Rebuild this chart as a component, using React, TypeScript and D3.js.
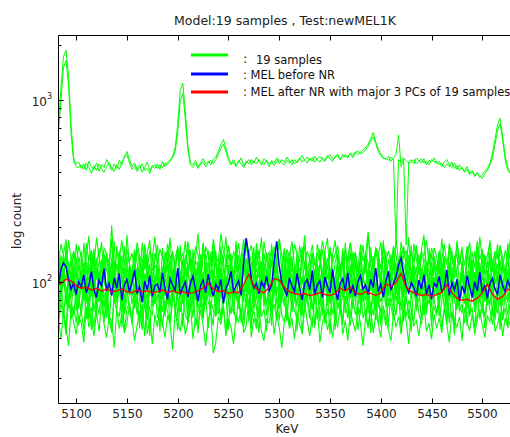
import React from "react";
import * as d3 from "d3";

const W = 510;
const H = 437;
const title = "Model:19 samples , Test:newMEL1K";
const xLabel = "KeV";
const yLabel = "log count";
const xTicks = [5100, 5150, 5200, 5250, 5300, 5350, 5400, 5450, 5500];
const yMajor = [100, 1000];
const yMajorExp = ["2", "3"];
const yMinor = [30, 40, 50, 60, 70, 80, 90, 200, 300, 400, 500, 600, 700, 800, 900, 2000];
const legendLabels = ["19 samples", ": MEL before NR", ": MEL after NR with major 3 PCs of 19 samples"];

// channel grids (KeV)
const fineKeV = d3.range(5080, 5531, 2.5);
const coarseKeV = d3.range(5080, 5531, 5);

// upper (high-count) samples
const upperA = [
  620, 720, 1150, 1720, 1860, 1350, 720, 480, 445, 455,
  420, 445, 410, 460, 430, 415, 450, 405, 440, 425,
  470, 435, 410, 445, 420, 465, 440, 490, 520, 470,
  430, 450, 415, 440, 400, 425, 455, 410, 435, 420,
  445, 415, 460, 430, 455, 470, 490, 545, 730, 1120,
  1230, 860, 560, 455, 440, 465, 430, 450, 475, 445,
  460, 440, 470, 485, 520, 570, 605, 545, 480, 445,
  470, 440, 455, 480, 435, 460, 445, 470, 450, 485,
  455, 440, 475, 460, 430, 465, 450, 480, 445, 470,
  455, 485, 460, 440, 470, 450, 475, 495, 465, 450,
  480, 460, 490, 470, 455, 485, 465, 495, 475, 460,
  490, 505, 470, 485, 500, 480, 510, 495, 520, 500,
  515, 530, 545, 570, 610, 660, 590, 535, 505, 480,
  470, 490, 460, 480, 500, 640, 430, 470, 160, 455,
  470, 445, 480, 460, 450, 475, 440, 465, 455, 480,
  445, 460, 430, 455, 470, 440, 425, 450, 415, 440,
  420, 405, 430, 395, 410, 385, 400, 375, 390, 405,
  420, 450, 510, 610, 730, 790, 630, 490, 425, 400, 415,
];
const upperB = [
  560, 650, 980, 1500, 1640, 1200, 650, 460, 430, 425,
  440, 415, 450, 425, 395, 435, 410, 445, 420, 400,
  430, 455, 420, 405, 440, 415, 455, 480, 500, 450,
  415, 435, 405, 425, 445, 410, 420, 395, 430, 440,
  420, 440, 425, 450, 440, 460, 480, 520, 660, 980,
  1080, 780, 530, 440, 425, 450, 420, 445, 455, 430,
  450, 465, 445, 470, 500, 540, 570, 520, 470, 440,
  455, 430, 465, 445, 425, 450, 470, 440, 460, 445,
  470, 450, 440, 465, 445, 455, 435, 460, 470, 450,
  440, 465, 450, 470, 445, 460, 480, 455, 470, 485,
  465, 480, 455, 475, 490, 470, 460, 485, 500, 475,
  480, 495, 470, 500, 485, 490, 505, 480, 510, 525,
  505, 515, 530, 555, 590, 625, 575, 520, 495, 475,
  480, 465, 485, 470, 160, 470, 455, 480, 465, 450,
  455, 470, 445, 460, 475, 450, 460, 440, 470, 455,
  460, 440, 450, 425, 445, 430, 455, 420, 435, 410,
  425, 400, 415, 390, 405, 380, 395, 385, 370, 395,
  410, 440, 480, 570, 680, 740, 600, 470, 410, 395, 405,
];

// lower samples
const g1 = [
  150, 128, 162, 141, 119, 170, 133, 147, 125, 158,
  139, 112, 165, 131, 149, 122, 176, 137, 118, 154,
  143, 127, 205, 115, 148, 136, 171, 124, 152, 130,
  145, 117, 166, 139, 128, 157, 121, 149, 134, 178,
  126, 151, 140, 113, 163, 135, 146, 120, 158, 132,
  144, 119, 168, 137, 127, 155, 142, 116, 161, 133,
  150, 124, 172, 140, 129, 185, 148, 131, 159, 122,
  147, 136, 164, 118, 153, 175, 142, 160, 125, 149,
  138, 115, 167, 134, 146, 121, 157, 130, 174, 141,
  126, 152, 137, 113, 162, 144, 129, 156, 120, 148,
  135, 160, 123, 145, 131, 169, 140, 117, 154, 128,
  143, 159, 121, 138, 150, 126, 165, 134, 147, 119,
  161, 130, 142, 189, 137, 124, 155, 146, 118, 163,
  132, 149, 127, 158, 141, 115, 167, 136, 150, 123,
  145, 131, 160, 122, 148, 139, 171, 126, 154, 137,
  118, 146, 133, 162, 127, 151, 140, 114, 165, 132,
  149, 124, 158, 137, 145, 120, 169, 133, 152, 128,
  141, 164, 125, 147, 136, 159, 119, 150, 134, 172, 138,
];
const g2 = [
  98, 105, 141, 122, 137, 94, 118, 146, 133, 101,
  112, 127, 96, 139, 150, 108, 121, 99, 131, 144,
  116, 103, 135, 125, 92, 147, 119, 110, 138, 128,
  97, 114, 153, 124, 106, 140, 131, 100, 117, 145,
  129, 95, 109, 136, 148, 120, 102, 126, 142, 113,
  99, 134, 155, 118, 107, 130, 123, 93, 143, 137,
  111, 104, 149, 127, 115, 139, 96, 121, 158, 132,
  106, 117, 141, 100, 128, 165, 112, 97, 135, 124,
  151, 109, 119, 138, 102, 130, 144, 114, 98, 126,
  137, 105, 148, 121, 110, 133, 93, 140, 127, 116,
  103, 145, 131, 99, 122, 152, 108, 136, 118, 101,
  129, 143, 112, 95, 139, 125, 106, 147, 120, 113,
  134, 100, 142, 128, 97, 117, 150, 123, 109, 137,
  131, 104, 115, 146, 119, 96, 138, 127, 111, 141,
  102, 124, 153, 114, 107, 135, 129, 98, 144, 121,
  116, 132, 100, 139, 126, 110, 148, 105, 118, 136,
  122, 97, 143, 130, 108, 125, 151, 113, 103, 140,
  120, 134, 99, 128, 145, 117, 123, 106, 131, 112, 126,
];
const g3 = [
  121, 92, 86, 117, 104, 131, 99, 110, 88, 125,
  103, 96, 129, 114, 84, 108, 136, 97, 119, 101,
  90, 123, 112, 94, 127, 105, 85, 116, 133, 98,
  109, 87, 120, 102, 95, 138, 111, 91, 106, 124,
  118, 100, 83, 113, 130, 96, 107, 122, 89, 104,
  134, 93, 115, 99, 126, 108, 86, 119, 102, 128,
  97, 111, 141, 90, 105, 121, 94, 132, 100, 87,
  114, 125, 103, 92, 118, 135, 98, 109, 84, 120,
  106, 130, 95, 112, 101, 89, 127, 116, 93, 123,
  99, 108, 137, 86, 114, 104, 120, 97, 129, 91,
  117, 102, 88, 126, 110, 95, 133, 105, 119, 100,
  85, 122, 107, 131, 94, 113, 98, 124, 90, 115,
  128, 101, 96, 118, 106, 139, 92, 111, 103, 87,
  121, 114, 99, 127, 88, 109, 134, 97, 116, 105,
  93, 124, 110, 85, 119, 102, 130, 95, 107, 122,
  100, 136, 89, 113, 104, 126, 96, 118, 108, 91,
  131, 98, 115, 103, 123, 87, 112, 129, 94, 106,
  117, 92, 125, 101, 109, 133, 90, 120, 99, 114, 108,
];
const g4 = [
  88, 104, 95, 113, 82, 99, 91, 118, 86, 102,
  109, 79, 97, 106, 90, 115, 84, 100, 93, 121,
  81, 96, 110, 87, 103, 92, 78, 112, 98, 85,
  107, 94, 119, 83, 101, 89, 114, 96, 80, 105,
  99, 87, 111, 92, 76, 108, 97, 116, 85, 103,
  90, 120, 95, 82, 106, 100, 88, 113, 79, 97,
  111, 86, 102, 94, 117, 84, 105, 91, 99, 125,
  93, 81, 108, 98, 87, 114, 90, 103, 77, 110,
  96, 105, 83, 118, 92, 100, 86, 109, 95, 81,
  112, 89, 101, 97, 122, 85, 94, 107, 91, 104,
  80, 99, 115, 88, 103, 93, 110, 84, 98, 117,
  92, 106, 87, 101, 95, 78, 112, 99, 89, 108,
  102, 84, 97, 114, 90, 105, 96, 80, 111, 94,
  88, 109, 99, 83, 116, 92, 101, 87, 106, 97,
  119, 91, 104, 86, 98, 113, 82, 100, 95, 107,
  85, 102, 93, 117, 89, 96, 108, 81, 103, 99,
  110, 88, 97, 105, 83, 114, 94, 101, 90, 106,
  96, 112, 84, 99, 108, 91, 103, 87, 118, 93, 97,
];
const g5 = [
  84, 97, 79, 106, 91, 72, 113, 88, 101, 76,
  95, 110, 83, 68, 104, 92, 117, 80, 99, 87,
  74, 103, 96, 115, 81, 89, 107, 70, 98, 111,
  86, 93, 77, 119, 100, 84, 71, 105, 90, 96,
  108, 78, 94, 85, 112, 73, 101, 92, 82, 116,
  89, 99, 67, 104, 95, 109, 80, 87, 114, 75,
  97, 83, 106, 92, 76, 118, 88, 102, 79, 94,
  111, 90, 73, 98, 85, 107, 96, 69, 103, 91,
  80, 115, 88, 77, 100, 93, 110, 84, 72, 105,
  94, 86, 120, 81, 97, 74, 108, 90, 99, 78,
  102, 71, 95, 113, 87, 83, 106, 92, 76, 117,
  89, 98, 80, 104, 68, 111, 93, 85, 101, 96,
  75, 109, 91, 82, 116, 88, 97, 73, 105, 90,
  99, 84, 112, 78, 94, 103, 70, 108, 87, 95,
  81, 114, 92, 86, 100, 76, 119, 89, 83, 106,
  97, 72, 104, 93, 110, 80, 91, 101, 74, 98,
  107, 88, 77, 115, 85, 96, 103, 82, 92, 79,
  112, 90, 99, 73, 106, 87, 94, 118, 81, 100, 93,
];
const g6 = [
  72, 88, 79, 63, 95, 84, 70, 101, 77, 86,
  66, 92, 81, 75, 104, 69, 89, 78, 97, 73,
  85, 61, 94, 80, 71, 99, 87, 67, 82, 106,
  76, 90, 68, 83, 96, 74, 62, 93, 85, 79,
  100, 71, 87, 65, 91, 78, 98, 73, 84, 69,
  81, 95, 60, 88, 77, 102, 72, 86, 64, 93,
  79, 70, 97, 83, 67, 90, 75, 105, 80, 68,
  92, 84, 73, 99, 62, 87, 78, 94, 71, 85,
  66, 101, 82, 76, 89, 70, 96, 63, 83, 91,
  74, 86, 108, 69, 80, 93, 77, 65, 98, 82,
  88, 72, 79, 95, 61, 84, 103, 75, 90, 67,
  81, 97, 70, 86, 76, 64, 92, 83, 99, 73,
  68, 89, 80, 104, 71, 85, 62, 94, 78, 87,
  96, 74, 83, 67, 91, 79, 100, 70, 86, 63,
  85, 93, 72, 81, 98, 66, 88, 76, 102, 80,
  69, 84, 95, 73, 87, 60, 92, 79, 71, 97,
  83, 77, 101, 65, 89, 74, 96, 82, 68, 90,
  75, 99, 86, 70, 94, 81, 63, 88, 78, 93, 80,
];
const g7 = [
  66, 58, 77, 71, 52, 84, 63, 74, 60, 81,
  69, 55, 88, 64, 73, 57, 79, 67, 92, 61,
  75, 62, 56, 83, 70, 65, 90, 54, 72, 78,
  59, 86, 68, 63, 76, 51, 81, 71, 66, 94,
  64, 73, 57, 80, 69, 60, 87, 74, 55, 77,
  82, 67, 61, 72, 95, 58, 70, 76, 63, 85,
  56, 79, 71, 65, 89, 62, 74, 53, 80, 68,
  73, 60, 84, 67, 57, 78, 91, 64, 70, 59,
  87, 65, 72, 54, 81, 69, 76, 62, 93, 66,
  61, 75, 58, 83, 70, 64, 79, 52, 72, 85,
  68, 57, 90, 63, 74, 80, 60, 71, 66, 88,
  55, 77, 69, 62, 84, 73, 58, 81, 67, 75,
  92, 64, 71, 56, 78, 66, 86, 60, 73, 69,
  58, 82, 74, 63, 70, 89, 55, 76, 65, 80,
  72, 61, 85, 68, 59, 77, 71, 94, 62, 74,
  66, 79, 57, 73, 83, 64, 69, 54, 87, 70,
  76, 60, 81, 67, 72, 56, 90, 63, 78, 65,
  84, 71, 59, 75, 68, 86, 62, 73, 57, 80, 70,
];
const g8 = [
  55, 63, 49, 68, 58, 45, 72, 61, 52, 66,
  60, 47, 74, 57, 64, 51, 69, 54, 79, 59,
  50, 65, 62, 44, 71, 56, 67, 53, 60, 76,
  63, 48, 58, 70, 55, 81, 52, 64, 46, 67,
  57, 73, 61, 50, 66, 59, 43, 69, 62, 54,
  68, 52, 60, 77, 49, 64, 56, 71, 58, 45,
  62, 70, 41, 47, 65, 59, 74, 51, 63, 57,
  46, 67, 61, 72, 53, 58, 80, 50, 64, 56,
  69, 54, 48, 63, 60, 75, 52, 66, 57, 44,
  61, 71, 56, 64, 49, 68, 59, 53, 78, 62,
  51, 65, 58, 73, 47, 60, 70, 55, 63, 50,
  66, 57, 76, 52, 62, 48, 69, 61, 54, 72,
  59, 45, 64, 58, 71, 53, 67, 60, 50, 75,
  63, 55, 48, 68, 57, 65, 52, 74, 61, 46,
  70, 58, 62, 51, 66, 78, 54, 60, 49, 67,
  56, 64, 53, 72, 59, 47, 69, 62, 57, 65,
  48, 73, 60, 55, 67, 52, 63, 71, 58, 50,
  66, 61, 74, 54, 59, 69, 51, 64, 57, 62, 58,
];
const g9 = [
  142, 88, 131, 96, 158, 104, 83, 149, 112, 137,
  91, 165, 118, 85, 140, 99, 127, 153, 87, 121,
  146, 94, 110, 168, 82, 134, 102, 157, 90, 125,
  107, 151, 86, 138, 97, 162, 115, 84, 144, 100,
  129, 81, 155, 108, 136, 92, 148, 117, 89, 160,
  98, 141, 123, 86, 152, 105, 131, 94, 166, 113,
  84, 147, 101, 135, 90, 158, 119, 87, 143, 126,
  103, 169, 95, 128, 150, 88, 137, 109, 156, 92,
  133, 85, 145, 114, 97, 163, 106, 140, 83, 124,
  154, 96, 118, 139, 86, 148, 102, 130, 161, 90,
  111, 144, 88, 127, 152, 99, 135, 84, 157, 116,
  93, 139, 121, 87, 165, 107, 146, 95, 132, 82,
  149, 104, 128, 91, 156, 113, 86, 141, 100, 170,
  88, 134, 117, 153, 94, 125, 148, 83, 137, 108,
  160, 97, 122, 89, 143, 131, 85, 155, 105, 128,
  92, 150, 112, 138, 87, 164, 101, 126, 145, 96,
  119, 84, 151, 106, 134, 93, 158, 115, 81, 142,
  103, 147, 90, 129, 162, 98, 136, 111, 154, 87, 120,
];
const g10 = [
  84, 123, 97, 141, 76, 109, 130, 88, 118, 72,
  135, 102, 80, 127, 93, 146, 79, 113, 104, 138,
  70, 120, 99, 132, 86, 149, 107, 75, 125, 91,
  116, 139, 82, 101, 128, 74, 143, 95, 110, 87,
  131, 71, 122, 105, 92, 137, 81, 114, 147, 98,
  77, 126, 108, 134, 73, 119, 96, 142, 85, 112,
  129, 90, 103, 148, 78, 117, 136, 83, 124, 100,
  94, 140, 72, 111, 133, 89, 121, 106, 75, 145,
  115, 81, 128, 97, 139, 70, 107, 131, 92, 118,
  87, 144, 101, 79, 125, 113, 96, 150, 74, 110,
  136, 95, 119, 84, 130, 104, 142, 77, 114, 89,
  106, 127, 73, 138, 93, 116, 82, 133, 99, 124,
  78, 112, 145, 88, 103, 135, 71, 121, 109, 91,
  140, 85, 117, 98, 128, 76, 147, 102, 86, 132,
  96, 120, 80, 143, 107, 90, 126, 114, 73, 137,
  118, 83, 134, 101, 75, 129, 94, 141, 108, 86,
  125, 99, 72, 139, 111, 82, 131, 97, 146, 79,
  103, 136, 88, 115, 127, 74, 122, 105, 93, 130, 100,
];
const g11 = [
  102, 67, 94, 120, 75, 111, 83, 126, 70, 98,
  115, 79, 106, 62, 123, 90, 73, 117, 96, 81,
  64, 108, 128, 77, 99, 118, 68, 103, 86, 121,
  93, 72, 116, 85, 60, 112, 101, 127, 74, 95,
  119, 82, 69, 105, 124, 88, 110, 65, 97, 114,
  76, 125, 91, 71, 107, 80, 122, 99, 63, 113,
  104, 87, 118, 66, 129, 92, 75, 109, 84, 120,
  71, 101, 124, 89, 78, 115, 61, 106, 130, 83,
  97, 116, 73, 110, 94, 68, 121, 87, 103, 77,
  126, 64, 99, 112, 81, 118, 92, 70, 107, 123,
  85, 109, 76, 127, 100, 66, 114, 95, 80, 117,
  62, 104, 121, 83, 111, 89, 125, 72, 98, 108,
  119, 78, 93, 68, 116, 102, 74, 128, 86, 97,
  73, 113, 105, 126, 79, 91, 110, 64, 120, 88,
  100, 124, 70, 96, 84, 117, 67, 108, 129, 82,
  111, 76, 118, 90, 63, 106, 122, 87, 99, 72,
  127, 94, 81, 115, 102, 69, 112, 78, 124, 91,
  86, 107, 65, 120, 96, 113, 75, 104, 118, 80, 95,
];
const g12 = [
  88, 60, 97, 71, 52, 105, 79, 66, 92, 58,
  74, 101, 63, 85, 55, 110, 69, 94, 81, 61,
  99, 67, 53, 90, 77, 104, 57, 83, 96, 70,
  62, 93, 84, 56, 108, 73, 89, 51, 100, 76,
  86, 54, 103, 68, 95, 59, 80, 111, 65, 91,
  57, 98, 75, 87, 64, 106, 53, 82, 72, 102,
  95, 70, 58, 109, 78, 63, 92, 84, 55, 99,
  67, 104, 81, 60, 96, 73, 112, 56, 88, 74,
  53, 90, 100, 66, 85, 58, 107, 77, 62, 94,
  83, 61, 97, 71, 110, 54, 87, 68, 102, 79,
  64, 106, 56, 92, 75, 99, 60, 86, 52, 95,
  101, 72, 84, 59, 108, 78, 65, 97, 81, 55,
  73, 96, 62, 89, 53, 103, 70, 91, 58, 107,
  85, 57, 98, 76, 66, 94, 111, 61, 83, 69,
  54, 102, 80, 93, 63, 88, 71, 105, 57, 90,
  97, 65, 77, 110, 59, 84, 96, 52, 100, 74,
  68, 93, 58, 86, 104, 71, 61, 98, 79, 56,
  91, 75, 103, 62, 87, 55, 99, 82, 66, 95, 78,
];
const g13 = [
  118, 156, 101, 143, 172, 109, 135, 95, 163, 127,
  148, 97, 139, 180, 112, 153, 104, 131, 167, 99,
  137, 121, 174, 93, 158, 115, 141, 106, 182, 124,
  103, 150, 129, 96, 165, 117, 145, 170, 100, 133,
  160, 111, 92, 147, 126, 176, 108, 138, 154, 98,
  128, 169, 114, 151, 102, 136, 185, 119, 94, 157,
  142, 105, 166, 125, 98, 149, 132, 178, 110, 144,
  96, 161, 120, 139, 173, 107, 152, 128, 101, 164,
  134, 176, 99, 146, 116, 155, 93, 140, 171, 113,
  152, 103, 137, 168, 122, 97, 159, 130, 181, 108,
  119, 145, 94, 162, 135, 111, 149, 175, 102, 141,
  170, 126, 107, 154, 98, 138, 165, 115, 146, 93,
  131, 160, 112, 184, 124, 100, 153, 139, 167, 106,
  148, 95, 142, 119, 172, 130, 104, 158, 121, 177,
  99, 163, 134, 110, 150, 182, 116, 143, 96, 155,
  138, 107, 174, 127, 101, 161, 145, 113, 169, 124,
  157, 92, 140, 166, 118, 149, 105, 178, 133, 110,
  126, 171, 114, 147, 97, 159, 137, 103, 164, 129, 140,
];

// MEL before NR
const melBefore = [
  108, 96, 118, 128, 122, 104, 92, 99, 86, 101,
  94, 110, 88, 97, 115, 91, 83, 103, 96, 119,
  90, 99, 85, 106, 93, 112, 80, 97, 104, 89,
  100, 117, 87, 95, 78, 102, 91, 109, 84, 96,
  98, 88, 113, 93, 81, 105, 97, 90, 120, 86,
  94, 101, 83, 99, 108, 92, 79, 96, 103, 88,
  111, 95, 84, 98, 91, 104, 77, 93, 100, 115,
  89, 96, 102, 85, 130, 175, 138, 104, 93, 99,
  87, 101, 94, 108, 90, 97, 130, 168, 122, 100,
  92, 85, 106, 96, 89, 112, 94, 80, 99, 104,
  91, 116, 86, 97, 102, 83, 107, 95, 88, 118,
  93, 80, 99, 105, 90, 113, 87, 96, 84, 101,
  109, 92, 97, 86, 104, 94, 120, 89, 98, 83,
  102, 115, 91, 99, 107, 125, 136, 112, 96, 88,
  100, 94, 84, 103, 92, 110, 86, 97, 81, 99,
  95, 108, 89, 93, 117, 85, 100, 91, 104, 79,
  96, 87, 109, 94, 83, 101, 90, 114, 88, 97,
  82, 99, 105, 92, 86, 110, 96, 89, 103, 94, 98,
];

// MEL after NR (5 KeV grid)
const melAfter = [
  95, 99, 104, 102, 96, 93, 94, 91, 93, 90,
  92, 89, 90, 92, 89, 88, 91, 89, 90, 88,
  89, 91, 88, 90, 88, 89, 87, 88, 90, 93,
  99, 92, 89, 90, 87, 89, 88, 98, 111, 95,
  90, 88, 94, 105, 103, 94, 89, 87, 86, 87,
  85, 86, 88, 86, 85, 87, 93, 90, 94, 88,
  86, 89, 87, 85, 88, 98, 95, 100, 112, 94,
  89, 87, 85, 86, 84, 86, 88, 97, 88, 82,
  80, 81, 79, 82, 88, 98, 86, 81, 84, 92, 90,
];

const lowerSamples = [g13, g1, g9, g2, g10, g3, g4, g11, g5, g12, g6, g7, g8];
const upperSamples = [upperA, upperB];

const FONT = "DejaVu Sans, Arial, sans-serif";

export default function App() {
  const left = 58.5;
  const right = 512;
  const top = 35.5;
  const bottom = 403.5;
  const x = d3.scaleLinear().domain([5082.6, 5529.2]).range([left, right]);
  const y = d3.scaleLog().domain([21.8, 2240]).range([bottom, top]);

  const lineOn = (grid: number[]) =>
    d3
      .line<number>()
      .x((_, i) => x(grid[i]))
      .y((d) => y(d));

  const fineLine = lineOn(fineKeV);
  const coarseLine = lineOn(coarseKeV);

  const green = "#00ff00";

  return (
    <svg
      width={W}
      height={H}
      style={{ position: "absolute", left: 0, top: 0, background: "#fff" }}
      fontFamily={FONT}
    >
      <defs>
        <clipPath id="plotClip">
          <rect x={left} y={top} width={right - left} height={bottom - top} />
        </clipPath>
      </defs>
      <rect x={0} y={0} width={W} height={H} fill="#fff" />

      <g clipPath="url(#plotClip)">
        {upperSamples.map((s, k) => (
          <path key={"u" + k} d={fineLine(s) || ""} fill="none" stroke={green} strokeWidth={1} />
        ))}
        {lowerSamples.map((s, k) => (
          <path key={"l" + k} d={fineLine(s) || ""} fill="none" stroke={green} strokeWidth={1.1} />
        ))}
        <path d={fineLine(melBefore) || ""} fill="none" stroke="#0000ff" strokeWidth={1.5} />
        <path d={coarseLine(melAfter) || ""} fill="none" stroke="#ff0000" strokeWidth={1.5} strokeOpacity={0.9} />
      </g>

      {/* axes box */}
      <line x1={left} x2={right} y1={top} y2={top} stroke="#000" />
      <line x1={left} x2={right} y1={bottom} y2={bottom} stroke="#000" />
      <line x1={left} x2={left} y1={top} y2={bottom} stroke="#000" />

      {xTicks.map((t) => {
        const px = Math.round(x(t)) + 0.5;
        return (
          <g key={"xt" + t}>
            <line x1={px} x2={px} y1={bottom} y2={bottom - 5} stroke="#000" />
            <line x1={px} x2={px} y1={top} y2={top + 5} stroke="#000" />
            <text x={px} y={418} fontSize={12} textAnchor="middle" fill="#222">
              {t}
            </text>
          </g>
        );
      })}

      {yMinor.map((t) => {
        const py = Math.round(y(t)) + 0.5;
        return <line key={"ym" + t} x1={left} x2={left + 3} y1={py} y2={py} stroke="#000" />;
      })}
      {yMajor.map((t, k) => {
        const py = Math.round(y(t)) + 0.5;
        return (
          <g key={"yM" + t}>
            <line x1={left} x2={left + 5} y1={py} y2={py} stroke="#000" />
            <text x={52} y={py + 5} fontSize={12} textAnchor="end" fill="#222">
              10
              <tspan dy={-7} fontSize={8}>
                {yMajorExp[k]}
              </tspan>
            </text>
          </g>
        );
      })}

      <text x={285} y={25} fontSize={12.5} textAnchor="middle" fill="#222">
        {title}
      </text>
      <text x={287} y={433} fontSize={12} textAnchor="middle" fill="#222">
        {xLabel}
      </text>
      <text transform="translate(21,221) rotate(-90)" fontSize={12} textAnchor="middle" fill="#222">
        {yLabel}
      </text>

      {/* legend */}
      <line x1={191} x2={228} y1={55} y2={55} stroke={green} strokeWidth={3} />
      <line x1={191} x2={228} y1={74} y2={74} stroke="#0000ff" strokeWidth={3} />
      <line x1={191} x2={228} y1={92} y2={92} stroke="#ff0000" strokeWidth={3} />
      <text x={243} y={63} fontSize={13} fill="#111">
        :
      </text>
      <text x={256} y={64} fontSize={11.5} fill="#111">
        {legendLabels[0]}
      </text>
      <text x={243} y={79} fontSize={11.5} fill="#111">
        {legendLabels[1]}
      </text>
      <text x={243} y={96} fontSize={11.5} fill="#111">
        {legendLabels[2]}
      </text>
    </svg>
  );
}
